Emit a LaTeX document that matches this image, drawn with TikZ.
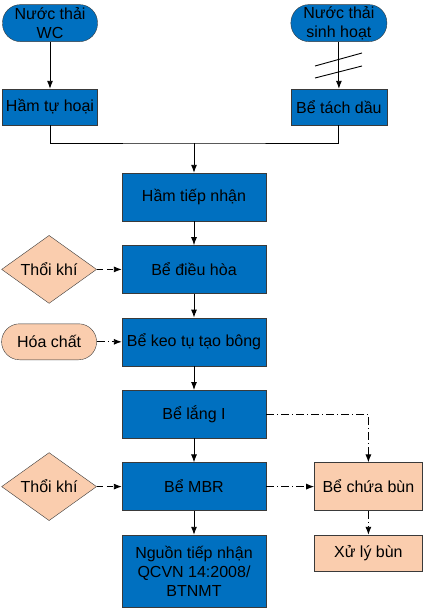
\documentclass[tikz,border=0pt]{standalone}
\usepackage{fontspec}
\setmainfont{Liberation Sans}
\usetikzlibrary{arrows.meta,positioning,shapes.geometric}
\definecolor{tankblue}{HTML}{0070C0}
\definecolor{sludge}{HTML}{FACDAE}
\definecolor{edge}{HTML}{3A3A3A}
\begin{document}
\begin{tikzpicture}[x=1pt,y=-1pt,font=\fontsize{16}{18.5}\selectfont]
			\tikzstyle{terminal} = [rectangle, draw=edge, fill=tankblue, rounded corners=18pt, minimum width=95pt, minimum height=37pt, inner sep=0pt, align=center]
			\tikzstyle{block} = [rectangle, draw=edge, fill=tankblue, minimum width=144pt, minimum height=48pt, inner sep=0pt, align=center]
			\tikzstyle{smallblock} = [block, minimum width=96pt, minimum height=36pt]
			\tikzstyle{air} = [diamond, draw=edge, fill=sludge, aspect=1.4, minimum width=95pt, minimum height=68pt, inner sep=0pt]
			\tikzstyle{chem} = [terminal, fill=sludge, minimum height=36pt]
			\tikzstyle{mud} = [rectangle, draw=edge, fill=sludge, minimum width=108pt, inner sep=0pt]
			\tikzstyle{arrow} = [draw, line width=0.9pt, -{Latex[length=8pt,width=6pt]}]
			\tikzstyle{gasline} = [dash pattern=on 6pt off 4pt]
			\tikzstyle{dotline} = [dash pattern=on 8pt off 3pt on 1pt off 3pt]
			\useasboundingbox (0,0) rectangle (424,608);
			\node [smallblock, minimum width=95pt] (hth) at (50,107) {Hầm tự hoại};
			\node [smallblock, right=193pt of hth] (btd) {Bể tách dầu};
			\node [terminal, above=47pt of hth] (wc) {Nước thải\\WC};
			\node [terminal, minimum width=96pt, above=47pt of btd] (sh) {Nước thải\\sinh hoạt};
			\coordinate (j) at (194,143);
			\node [block] (htn) at (194,197) {Hầm tiếp nhận};
			\node [block, below=24pt of htn] (bdh) {Bể điều hòa};
			\node [block, below=24pt of bdh] (bkt) {Bể keo tụ tạo bông};
			\node [block, below=24pt of bkt] (bl) {Bể lắng I};
			\node [block, below=24pt of bl] (mbr) {Bể MBR};
			\node [block, minimum height=72pt, below=24pt of mbr, font=\fontsize{16}{19}\selectfont] (ntn) {Nguồn tiếp nhận\\QCVN 14:2008/\\BTNMT};
			\node [air, left=25pt of bdh] (tk1) {Thổi khí};
			\node [chem, left=25pt of bkt] (hc) {Hóa chất};
			\node [air, left=25pt of mbr] (tk2) {Thổi khí};
			\node [mud, minimum height=48pt, right=48pt of mbr] (bcb) {Bể chứa bùn};
			\node [mud, minimum height=36pt, below=24pt of bcb] (xlb) {Xử lý bùn};

			\path[arrow] (wc) -- (hth);
			\path[arrow] (sh) -- (btd);
			\draw[line width=0.9pt] (315,66) -- (362,53);
			\draw[line width=0.9pt] (315,78) -- (362,66);
			\draw[line width=0.9pt] (hth) |- (j) -| (btd);
			\path[arrow] (j) -- (htn);
			\path[arrow] (htn) -- (bdh);
			\path[arrow] (bdh) -- (bkt);
			\path[arrow] (bkt) -- (bl);
			\path[arrow] (bl) -- (mbr);
			\path[arrow] (mbr) -- (ntn);
			\path[arrow, gasline] (tk1) -- (bdh);
			\path[arrow, gasline] (tk2) -- (mbr);
			\path[arrow, dotline] (hc) -- (bkt);
			\path[arrow, dotline] (bl.east) -| (bcb.north);
			\path[arrow, dotline] (mbr) -- (bcb);
			\path[arrow, dotline] (bcb) -- (xlb);
		\end{tikzpicture}
\end{document}
